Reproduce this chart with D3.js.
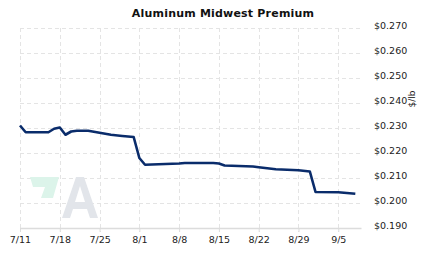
<!DOCTYPE html>
<html>
<head>
<meta charset="utf-8">
<script src="https://cdn.jsdelivr.net/npm/d3@7"></script>
<style>
  body { margin: 0; background: #fff; }
  svg { display: block; }
</style>
</head>
<body>
<div id="chart"></div>
<script>
// data
const dates = ["2022-07-11","2022-07-12","2022-07-13","2022-07-15","2022-07-16","2022-07-17","2022-07-18","2022-07-19",
  "2022-07-20","2022-07-21","2022-07-23","2022-07-27","2022-07-29","2022-07-31","2022-08-01","2022-08-02",
  "2022-08-08","2022-08-09","2022-08-14","2022-08-15","2022-08-16","2022-08-21","2022-08-22","2022-08-25",
  "2022-08-29","2022-08-31","2022-09-01","2022-09-05","2022-09-08"]
const prices = [0.2310,0.2283,0.2283,0.2283,0.2283,0.2297,0.2302,0.2273,
  0.2286,0.2289,0.2289,0.2273,0.2268,0.2264,0.2180,0.2153,
  0.2158,0.2160,0.2160,0.2158,0.2150,0.2146,0.2143,0.2135,
  0.2131,0.2126,0.2044,0.2043,0.2037]
const xTickLabels = ["7/11","7/18","7/25","8/1","8/8","8/15","8/22","8/29","9/5"]
const yTicks = [0.19,0.20,0.21,0.22,0.23,0.24,0.25,0.26,0.27]

const parseDate = d3.timeParse("%Y-%m-%d")
const dataset = dates.map((d, i) => ({ date: parseDate(d), price: prices[i] }))
const xTickDates = xTickLabels.map(s => parseDate("2022-" + s.split("/").map(v => v.padStart(2, "0")).join("-")))

const xAccessor = d => d.date
const yAccessor = d => d.price

const dimensions = {
  width: 423,
  height: 257,
  margin: { top: 28, right: 62, bottom: 29, left: 20 },
}
dimensions.boundedWidth = dimensions.width - dimensions.margin.left - dimensions.margin.right
dimensions.boundedHeight = dimensions.height - dimensions.margin.top - dimensions.margin.bottom

const wrapper = d3.select("#chart")
  .append("svg")
    .attr("width", dimensions.width)
    .attr("height", dimensions.height)

const bounds = wrapper.append("g")
  .attr("transform", `translate(${dimensions.margin.left},${dimensions.margin.top})`)

const xScale = d3.scaleTime()
  .domain([parseDate("2022-07-11"), parseDate("2022-09-09")])
  .range([0, dimensions.boundedWidth])

const yScale = d3.scaleLinear()
  .domain([0.19, 0.27])
  .range([dimensions.boundedHeight, 0])

// title
wrapper.append("text")
  .attr("x", 223)
  .attr("y", 17)
  .attr("text-anchor", "middle")
  .style("font-family", "'DejaVu Sans', Verdana, sans-serif")
  .style("font-weight", "bold")
  .style("font-size", "11px")
  .style("letter-spacing", "0.2px")
  .style("fill", "#111")
  .text("Aluminum Midwest Premium")

// grid
bounds.append("g")
  .selectAll("line")
  .data(yTicks.slice(1))
  .join("line")
    .attr("x1", 0)
    .attr("x2", dimensions.boundedWidth)
    .attr("y1", d => Math.round(yScale(d)) + 0.5)
    .attr("y2", d => Math.round(yScale(d)) + 0.5)
    .attr("stroke", "#e4e4e4")
    .attr("stroke-dasharray", "4,3")

bounds.append("g")
  .selectAll("line")
  .data(xTickDates)
  .join("line")
    .attr("x1", d => Math.round(xScale(d)) + 0.5)
    .attr("x2", d => Math.round(xScale(d)) + 0.5)
    .attr("y1", 0)
    .attr("y2", dimensions.boundedHeight + 4)
    .attr("stroke", "#e4e4e4")
    .attr("stroke-dasharray", "4,3")

// watermark
const logo = bounds.append("g").attr("transform", `translate(${-dimensions.margin.left},${-dimensions.margin.top})`)
logo.append("path")
  .attr("d", "M30,177 L59,177 L53,198 L41,198 L45,187 L33,187 Z")
  .attr("fill", "#dcf4ea")
logo.append("path")
  .attr("d", "M62,218 L76,177 L84,177 L98,218 L90,218 L87,209 L73,209 L70,218 Z M75,202 L85,202 L80,186 Z")
  .attr("fill", "#e2e5ea")
  .attr("fill-rule", "evenodd")

// x axis
const xAxisGenerator = d3.axisBottom(xScale)
  .tickValues(xTickDates)
  .tickFormat((d, i) => xTickLabels[i])
  .tickSize(4)
  .tickSizeOuter(0)

const xAxis = bounds.append("g")
  .attr("transform", `translate(0,${dimensions.boundedHeight})`)
  .call(xAxisGenerator)
xAxis.select(".domain").attr("stroke", "#dcdcdc").attr("stroke-width", 1.5)
xAxis.selectAll(".tick line").attr("stroke", "#dcdcdc")
xAxis.selectAll(".tick text")
  .attr("dy", "0.85em")
  .attr("y", 7)
  .style("font-family", "'DejaVu Sans', Verdana, sans-serif")
  .style("font-size", "9.5px")
  .style("fill", "#222")

// y axis on the right
const yAxisGenerator = d3.axisRight(yScale)
  .tickValues(yTicks)
  .tickFormat(d => "$" + d3.format(".3f")(d))
  .tickSize(0)

const yAxis = bounds.append("g")
  .attr("transform", `translate(${dimensions.boundedWidth + 10},0)`)
  .call(yAxisGenerator)
yAxis.select(".domain").remove()
yAxis.selectAll(".tick text")
  .attr("dy", "0.1em")
  .style("font-family", "'DejaVu Sans', Verdana, sans-serif")
  .style("font-size", "9.5px")
  .style("fill", "#222")

wrapper.append("text")
  .attr("transform", "translate(415,99) rotate(-90)")
  .attr("text-anchor", "middle")
  .style("font-family", "'DejaVu Sans', Verdana, sans-serif")
  .style("font-size", "9px")
  .style("fill", "#222")
  .text("$/lb")

// line
const lineGenerator = d3.line()
  .x(d => xScale(xAccessor(d)))
  .y(d => yScale(yAccessor(d)))

bounds.append("path")
  .attr("d", lineGenerator(dataset))
  .attr("fill", "none")
  .attr("stroke", "#0a2c6b")
  .attr("stroke-width", 2.6)
  .attr("stroke-linejoin", "round")
</script>
</body>
</html>
